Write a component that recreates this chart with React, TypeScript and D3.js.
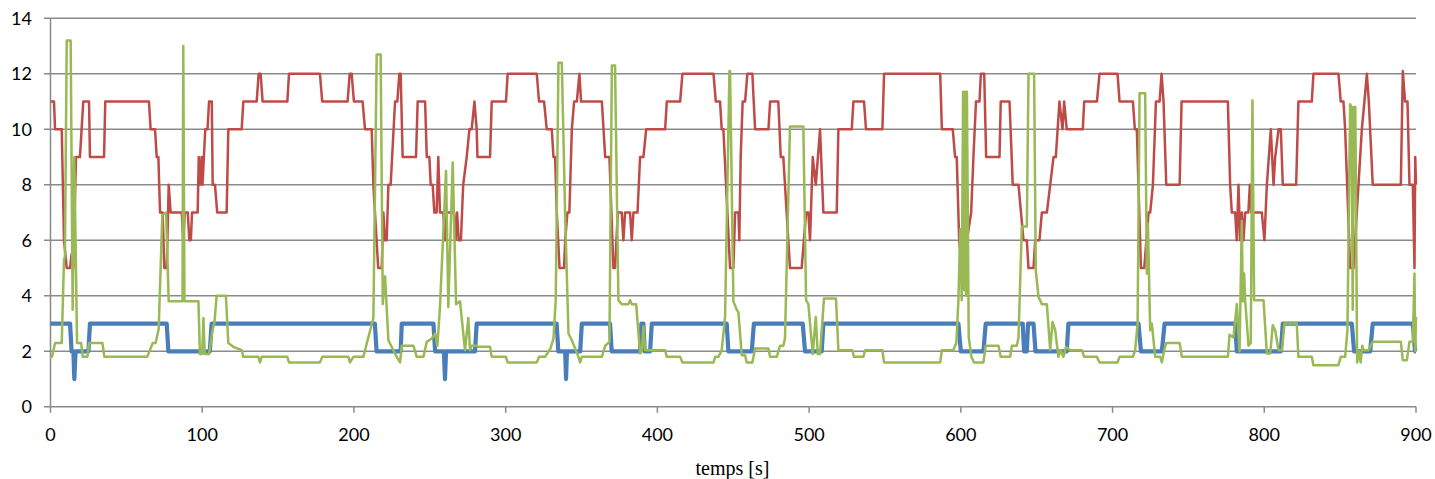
import React from "react";
import * as d3 from "d3";

const xTicks = [0, 100, 200, 300, 400, 500, 600, 700, 800, 900];
const yTicks = [0, 2, 4, 6, 8, 10, 12, 14];
const xTitle = "temps [s]";

const blueData: [number, number][] = [
  [0,3],[12.9,3],[13.9,2],[15.1,2],[15.7,1],[16.5,2],[25,2],[26,3],[76.6,3],[77.7,2],[105,2],[106.2,3],
  [213.8,3],[214.9,2],[230.8,2],[231.5,3],[252.4,3],[253.5,2],[259.3,2],[260,1],[260.7,2],[279.8,2],[280.9,3],
  [333.6,3],[334.7,2],[339.2,2],[339.8,1],[340.4,2],[349.1,2],[350.2,3],[368.8,3],[369.9,2],[388.6,2],[389.5,3],
  [390.8,3],[391.6,2],[395.2,2],[396.3,3],[445.7,3],[446.8,2],[462.2,2],[463.6,3],[495.8,3],[497.3,2],[508.3,2],
  [509.4,3],[598.4,3],[600,2],[614.9,2],[616.4,3],[640.8,3],[641.7,2],[643.5,2],[644.3,3],[647.9,3],[649.2,2],
  [669.8,2],[670.9,3],[717.1,3],[718.7,2],[732.5,2],[734.3,3],[780.8,3],[781.9,2],[810.9,2],[812.2,3],[857.7,3],
  [859.2,2],[869.8,2],[871.5,3],[897.9,3],[899.4,2],[900,2]
];

const redData: [number, number][] = [
  [0,11],[2.3,11],[3,10],[6.7,10],[7.4,10],[8.9,6],[10.7,5],[12.9,5],[13.9,5.5],[15,5],[16.8,9],[19.4,9],
  [21.6,11],[25.4,11],[26,9],[35.3,9],[36.1,11],[64.9,11],[66,10],[68.9,10],[70,9],[71.1,9],[72.2,7],[73.9,7],
  [75,5],[76.6,5],[77.9,8],[79.2,7],[86.5,7],[87.5,6],[88.5,7],[90.5,7],[91.5,6],[92.5,6],[93.3,7],[97,7],
  [97.7,9],[98.5,8],[99.6,9],[100.2,8],[102,10],[103.5,10],[104.5,11],[106.3,11],[106.9,8],[108.4,8],[109.9,7],
  [116.1,7],[117.2,10],[126,10],[127.1,11],[135.9,11],[137.2,12],[138.5,12],[139.8,11],[156.1,11],[157.2,12],
  [177.6,12],[179.1,11],[195.8,11],[197.2,12],[198.5,12],[200,11],[205.7,11],[207.3,10],[211.7,10],[212.8,8],
  [216,5],[218.3,5],[219.4,7],[220.5,6],[221.6,6],[222.7,8],[224.2,8],[227.1,11],[228.6,11],[229.9,12],[230.8,12],
  [232.1,9],[240.9,9],[242,11],[246.9,11],[248,9],[249.7,9],[250.6,8],[251.9,8],[253,7],[254.5,7],[255.6,9],
  [256.7,7],[258.9,7],[260,6],[261.1,7],[266,7],[267,6],[268,7],[269,6],[270.5,6],[272,8],[274.3,9],[276.1,10],
  [277.6,10],[279.4,11],[280.9,10],[281.4,9],[289.7,9],[290.8,11],[300.2,11],[301.3,12],[320.5,12],[322,11],
  [325.3,11],[327.1,10],[330.4,10],[331.5,9],[332.6,9],[333.7,7],[335.5,5],[338.5,5],[339.2,6],[340.7,7],[342,7],
  [343.6,10],[345.1,11],[346.9,11],[348.6,12],[349.7,11],[363.4,11],[365.6,9],[368.4,9],[371,5],[372.1,5],
  [373.9,7],[376.5,7],[377.6,6],[378.7,7],[382,7],[383.1,6],[384.2,7],[386.9,7],[388.6,9],[390.8,9],[392.6,10],
  [405.1,10],[406.2,11],[415,11],[416.5,12],[437,12],[438.5,11],[441.3,11],[442.4,10],[443.5,10],[447.9,5],
  [450.1,5],[451.2,7],[453.4,7],[454,6],[454.9,9],[456.2,11],[457.8,11],[459.3,12],[462.6,12],[464.4,10],
  [473.2,10],[474.3,11],[479.7,11],[481.3,9],[483,9],[487.4,5],[495.1,5],[498,7],[499.5,7],[500.6,6],[502.4,9],
  [504.4,8],[507.2,10],[509.4,7],[518.2,7],[519.3,10],[528.1,10],[529.2,11],[536.2,11],[537.5,10],[548.3,10],
  [549.4,12],[586.4,12],[587.5,10],[594.7,10],[596.2,9],[597.3,9],[598.9,6],[600.6,5],[602,5.3],[603,5],[604,6],
  [606.8,7],[608.3,9],[610,11],[612.3,11],[613.2,12],[615.4,12],[616.7,9],[625.5,9],[626.3,11],[632.1,11],
  [634.2,8],[638,8],[641.3,6],[643.5,6],[644.6,5],[647.9,5],[649,6],[651.8,6],[653.4,7],[656.7,7],[658.9,8],
  [661.1,9],[662.6,9],[665,11],[667,10],[668.1,11],[669.8,10],[671,10],[680.4,10],[681.3,11],[689.7,11],
  [691.4,12],[703.3,12],[704.6,11],[713.4,11],[714.7,10],[716,10],[718.7,5],[720.9,5],[723.7,7],[724.8,7],
  [726.6,8],[728.6,11],[731,11],[732.3,12],[733.6,11],[735.4,8],[744.2,8],[745.5,11],[776,11],[777.5,8],
  [778.6,7],[780.8,7],[781.9,6],[783,8],[784.1,6],[785.2,7],[786.3,6],[787.4,7],[789.5,7],[790.5,8],[791.5,7],
  [798.4,7],[800.1,6],[801.7,8],[804.3,10],[806.1,8],[807.2,9],[809.4,10],[810.9,10],[812.2,8],[821,8],
  [822.5,11],[831.3,11],[832.4,12],[848.9,12],[850.4,11],[852.2,11],[853.3,10],[856.6,5],[858.8,5],[864.3,10],
  [866,11],[867.6,12],[868.9,11],[871.5,8],[890,8],[891.3,12.1],[892.8,11],[894.4,11],[895.7,8],[897.9,8],
  [899,5],[899.5,9],[900,8]
];

const greenData: [number, number][] = [
  [0,1.8],[1,1.8],[3,2.3],[7.4,2.3],[8.9,5.3],[9.5,5.4],[10.7,13.2],[13.3,13.2],[14.6,3.5],[15.7,9.0],
  [17.5,2.3],[20.2,2.3],[21.3,1.8],[24.3,1.8],[25.4,2.3],[34.2,2.3],[35.5,1.8],[63.7,1.8],[67.4,2.3],[69.3,2.3],
  [71.3,2.8],[73.7,6.9],[76.2,7.0],[77.9,3.8],[87,3.8],[87.5,13.0],[88.3,3.8],[97.5,3.8],[98.5,1.9],[100,1.9],
  [100.8,3.2],[101.6,1.9],[104.5,1.9],[106.9,2.8],[108,3.0],[109.5,4.0],[115.6,4.0],[117.2,2.3],[120.5,2.16],
  [126,2.04],[127.1,1.8],[137,1.8],[138.1,1.6],[139.2,1.8],[156.1,1.8],[157.2,1.6],[177.6,1.6],[179.1,1.8],
  [196.3,1.8],[197.4,1.6],[199.6,1.8],[206.2,1.8],[207.3,2.04],[212.8,3.2],[215,12.7],[217.6,12.7],[219,3.7],
  [220.5,4.7],[222.7,2.4],[226,2.04],[228.2,1.8],[230.4,1.6],[231.5,2.2],[239.2,2.2],[241.4,1.8],[245.8,1.8],
  [248,2.34],[251.3,2.46],[253.5,2.64],[255,2.2],[256.7,3.6],[260.7,8.5],[262.2,3.6],[265.1,8.8],[267.3,3.7],
  [269.9,3.8],[273.2,2.04],[275.4,3.2],[276.5,2.04],[277.6,2.2],[280.9,2.2],[282,2.16],[289.7,2.16],[290.8,1.8],
  [300.2,1.8],[301.3,1.6],[320.5,1.6],[322,1.8],[326,1.8],[329.5,2.1],[331.5,2.46],[333,3.84],[334.8,12.4],
  [337,12.4],[339.2,6.9],[341.4,2.64],[343.6,2.4],[348,1.8],[349.1,1.6],[350.2,1.8],[363.4,1.8],[365.6,2.2],
  [368.4,2.34],[370,12.3],[372.1,12.3],[374.3,3.84],[376.5,3.7],[380.9,3.7],[382,3.84],[383.1,3.7],[386,3.7],
  [388.6,1.92],[389.7,2.0],[390.8,2.9],[391.9,2.04],[405.1,2.04],[406.2,1.8],[415,1.8],[416.5,1.6],[437,1.6],
  [438.1,1.8],[440.2,1.8],[442.4,2.04],[444.6,3.24],[447.5,12.1],[447.9,12.1],[450.1,3.8],[452.3,3.5],
  [453.4,3.4],[455.6,1.86],[457.8,1.86],[458.9,1.6],[462.6,1.6],[464.4,2.1],[473.2,2.1],[474.3,1.8],[478.7,1.8],
  [480.8,2.2],[483,2.2],[484.1,2.46],[487.4,10.1],[496.2,10.1],[498,3.84],[499.5,3.7],[502.4,1.9],[504.4,3.24],
  [505.7,1.9],[507.2,1.9],[509.8,3.9],[517.7,3.9],[519.3,2.04],[528.5,2.04],[529.6,1.8],[535.8,1.8],[536.9,2.04],
  [548.3,2.04],[549.4,1.6],[586.4,1.6],[587.5,2.04],[595,2.04],[597,2.3],[598.4,3.84],[599.6,6.4],[600.6,3.84],
  [601.5,11.35],[602.3,4.2],[602.8,11.35],[603.5,4],[604,11.35],[605.2,2.5],[607,1.8],[608.6,1.6],[614.9,1.6],
  [616.4,2.2],[624.8,2.2],[626.3,1.8],[632.5,1.8],[633.6,2.2],[636.9,2.2],[638,2.5],[640.2,6.5],[643.5,6.5],
  [644.6,12],[648.3,12],[649.4,4.9],[651.2,3.96],[653.4,3.7],[656.7,3.7],[658.9,2.04],[660.4,3.06],[662.2,2.76],
  [664.3,1.8],[665.9,2.04],[667.6,1.8],[669.4,2.16],[672.1,2.04],[679.8,2.04],[681.3,1.8],[689.7,1.8],
  [691.4,1.6],[703.3,1.6],[704.6,1.8],[713.4,1.8],[714.9,2.04],[716.5,3.0],[717.8,11.3],[721.5,11.3],
  [722.6,4.8],[723.3,6.6],[724.8,2.76],[725.9,3.0],[728.1,1.8],[731.4,1.8],[732.5,1.6],[734,2.04],[735.4,2.3],
  [744.2,2.3],[745.7,1.8],[776,1.8],[777.1,2.6],[779.7,2.5],[781.9,3.7],[783.7,2.0],[785.2,6.7],[785.8,3.8],
  [786.7,4.8],[787.4,3.84],[789.6,2.2],[791.1,2.3],[792.2,11.05],[793.3,3.84],[799.5,3.84],[801.7,1.92],
  [803.9,1.92],[805.6,2.94],[807.2,2.76],[809.4,2.04],[811.6,2.04],[813.3,3.0],[821.4,3.0],[822.5,1.8],
  [831.3,1.8],[832.4,1.5],[848.9,1.5],[850.4,1.8],[853.3,1.8],[854.8,2.76],[856.6,10.9],[857.5,10.8],
  [858.3,3.5],[859,10.8],[860,10.8],[861.2,1.6],[862.5,2.0],[863.5,1.6],[864.6,2.2],[865.4,2.04],[868.7,2.04],
  [871.5,2.34],[890,2.34],[891.3,1.68],[894,1.68],[895.7,2.34],[897.9,2.34],[899,4.8],[899.5,2.0],[900,3.24]
];

const W = 1435;
const H = 479;

export default function App() {
  const x = d3.scaleLinear().domain([0, 900]).range([50.5, 1416]);
  const y = d3.scaleLinear().domain([0, 14]).range([406.8, 18.3]);
  const line = d3
    .line<[number, number]>()
    .x((d) => x(d[0]))
    .y((d) => y(d[1]));
  const grid = "#8a8a8a";
  const sans = "Lato, 'Open Sans', sans-serif";
  return (
    <svg
      width={W}
      height={H}
      style={{ position: "absolute", left: 0, top: 0, background: "#fff" }}
    >
      {yTicks.map((t) => (
        <g key={"y" + t}>
          <line x1={44} x2={x(900)} y1={y(t)} y2={y(t)} stroke={grid} strokeWidth={1.5} />
          <text
            x={32}
            y={y(t)}
            dy="0.36em"
            textAnchor="end"
            fontFamily={sans}
            fontSize={18}
            fill="#000"
          >
            {t}
          </text>
        </g>
      ))}
      <line x1={x(0)} x2={x(0)} y1={y(14)} y2={y(0)} stroke={grid} strokeWidth={1.5} />
      {xTicks.map((t) => (
        <g key={"x" + t}>
          <line x1={x(t)} x2={x(t)} y1={y(0)} y2={y(0) + 6} stroke={grid} strokeWidth={1.5} />
          <text
            x={x(t)}
            y={441}
            textAnchor="middle"
            fontFamily={sans}
            fontSize={18}
            fill="#000"
          >
            {t}
          </text>
        </g>
      ))}
      <path d={line(blueData) || ""} fill="none" stroke="#4A7EBB" strokeWidth={4.2} strokeLinejoin="round" />
      <path d={line(redData) || ""} fill="none" stroke="#BE4B48" strokeWidth={2.5} strokeLinejoin="round" />
      <path d={line(greenData) || ""} fill="none" stroke="#98B954" strokeWidth={2.5} strokeLinejoin="round" />
      <text
        x={732.5}
        y={475}
        textAnchor="middle"
        style={{ fontFamily: "'Liberation Serif', 'DejaVu Serif', serif", fontSize: "20px" }}
        fill="#000"
      >
        {xTitle}
      </text>
    </svg>
  );
}
